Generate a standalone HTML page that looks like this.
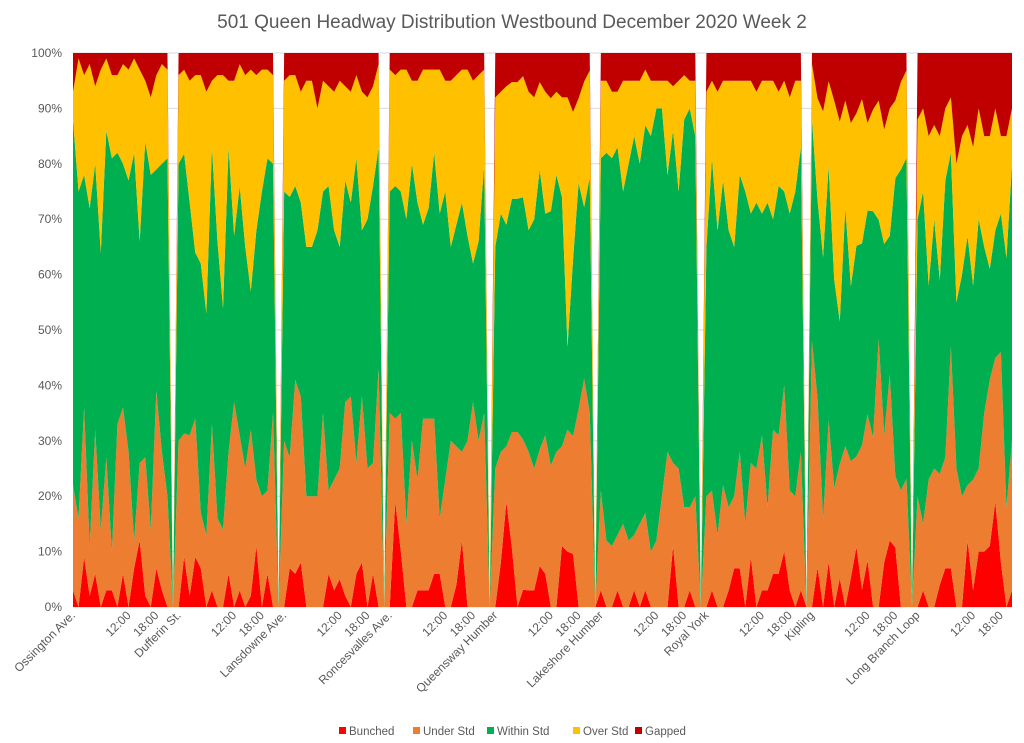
<!DOCTYPE html>
<html><head><meta charset="utf-8"><style>
body{margin:0;background:#fff;}
svg{display:block;font-family:"Liberation Sans",Arial,sans-serif;}
</style></head><body>
<svg id="chart" width="1024" height="743" viewBox="0 0 1024 743" xmlns="http://www.w3.org/2000/svg">
<text x="512" y="28" text-anchor="middle" font-size="19" fill="#595959">501 Queen  Headway Distribution Westbound December 2020 Week 2</text>
<g id="grid"></g><g id="areas"></g><g id="ylab"></g><g id="xlab"></g>
<g id="legend"></g>
</svg>
<script>
const stations=["Ossington Ave.","Dufferin St.","Lansdowne Ave.","Roncesvalles Ave.","Queensway Humber","Lakeshore Humber","Royal York","Kipling","Long Branch Loop"];
const yTicks=["0%","10%","20%","30%","40%","50%","60%","70%","80%","90%","100%"];
const seriesNames=["Bunched","Under Std","Within Std","Over Std","Gapped"];
const bunchedG=[
[3,0,9,2,6,0,3,3,0,6,0,7,12,2,0,7,3,0],
[0,9,2,9,7,0,3,0,0,6,0,3,0,2,11,0,6,0],
[0,7,6,8,0,0,0,0,6,3,5,2,0,6,8,0,6,0],
[0,19,10,0,0,3,3,3,6,6,0,0,4,12,0,0,0,0],
[0,8,19,10,0,3,3,3,7,6,0,0,11,10,9,0,0,0],
[3,0,0,3,0,0,3,0,3,0,0,0,0,11,0,0,3,0],
[0,3,0,0,3,7,7,0,9,0,3,3,6,6,10,3,0,3],
[0,7,0,8,0,5,0,5,10,3,8,0,0,7,12,10,0,0],
[0,3,0,0,4,7,7,0,0,12,3,10,10,11,19,8,0,3]];
const underG=[
[19,16,27,9,26,14,24,7,33,30,28,5,14,25,14,32,25,20],
[30,22,29,25,10,13,30,16,14,22,37,28,25,30,12,20,15,35],
[30,20,35,30,20,20,20,35,15,20,20,35,38,20,30,25,20,43],
[35,15,25,15,30,20,31,31,28,10,23,30,25,16,30,37,30,35],
[25,20,10,20,30,26,25,22,20,25,25,28,18,22,20,35,40,33],
[18,12,11,10,15,12,10,15,14,10,12,20,28,15,25,18,15,20],
[20,18,13,22,15,13,21,15,17,25,28,15,26,25,30,18,20,25],
[48,30,15,25,20,20,27,20,15,25,25,30,45,20,30,12,20,22],
[20,12,23,25,20,20,40,25,20,10,20,15,25,30,26,38,18,27]];
const withinG=[
[66,59,42,61,48,50,59,71,49,44,49,70,40,57,64,40,52,61],
[50,50,42,30,45,40,50,50,40,55,30,45,40,25,45,55,60,45],
[45,47,35,35,45,45,48,40,55,45,40,40,35,55,30,45,50,40],
[40,42,40,55,50,50,35,38,48,55,52,35,40,45,37,25,36,45],
[40,43,40,40,40,42,40,45,48,40,45,50,45,15,30,40,30,40],
[60,70,70,70,60,68,72,65,70,75,78,70,50,60,50,70,72,65],
[45,60,55,55,50,45,50,60,45,48,40,55,38,45,35,50,55,55],
[40,35,45,45,35,25,40,30,35,35,35,40,20,30,25,50,55,55],
[50,60,35,45,35,50,35,30,40,45,35,45,30,20,23,25,45,50]];
const overG=[
[5,24,18,26,14,33,13,15,14,18,20,17,31,11,14,17,18,16],
[16,15,22,32,34,40,12,30,42,12,28,22,31,40,28,22,16,16],
[20,22,20,20,30,30,22,20,18,25,30,17,20,15,25,22,18,15],
[22,20,22,27,15,22,28,25,15,26,20,30,27,24,30,33,30,17],
[27,22,25,20,20,21,25,22,15,22,20,15,18,45,25,15,22,18],
[14,13,12,10,20,15,10,15,10,10,5,5,17,8,20,8,5,10],
[28,14,25,18,27,30,17,20,24,20,24,22,25,17,20,21,20,12],
[10,18,25,15,30,35,18,28,22,25,15,18,20,18,23,13,15,15],
[18,15,27,17,26,13,10,25,25,20,25,20,20,24,22,14,22,10]];
const gappedG=[
[7,1,4,2,6,3,1,4,4,2,3,1,3,5,8,4,2,3],
[4,3,5,4,4,7,5,4,4,5,5,2,4,3,4,3,3,4],
[5,4,4,7,5,5,10,5,6,7,5,6,7,4,7,8,6,2],
[3,4,3,3,5,5,3,3,3,3,5,5,4,3,3,5,4,3],
[8,7,6,5,5,4,7,8,5,7,8,7,8,8,10,8,5,3],
[5,5,7,7,5,5,5,5,3,5,5,5,5,6,5,4,5,5],
[7,5,7,5,5,5,5,5,5,7,5,5,5,7,5,8,5,5],
[2,8,10,5,8,12,8,12,10,8,12,10,8,12,10,8,5,3],
[12,10,15,13,15,10,8,20,15,13,17,10,15,15,10,15,15,10]];
const colors=["#FF0000","#ED7D31","#00B050","#FFC000","#C00000"];
const NS="http://www.w3.org/2000/svg";
function mk(t,a,p){const e=document.createElementNS(NS,t);for(const k in a)e.setAttribute(k,a[k]);p.appendChild(e);return e;}
const groups=[bunchedG,underG,withinG,overG,gappedG];
const series=[[],[],[],[],[]];const labels=[];
for(let g=0;g<stations.length;g++){
  for(let i=0;i<18;i++){for(let s=0;s<5;s++)series[s].push(groups[s][g][i]);
    labels.push(i===0?stations[g]:(i===10?"12:00":(i===15?"18:00":"")));}
  if(g<stations.length-1){for(let s=0;s<5;s++)series[s].push(0);labels.push("");}
}
const N=labels.length;const L=73,R=1012,T=53,B=607;
const X=i=>L+(R-L)*i/(N-1);const Y=p=>B-(B-T)*p/100;
const grid=document.getElementById('grid');
yTicks.forEach((t,k)=>{const l=mk('line',{x1:L,x2:R,y1:Y(k*10),y2:Y(k*10),stroke:"#d9d9d9","stroke-width":1},grid);

const tx=mk('text',{x:62,y:Y(k*10)+4,"text-anchor":"end","font-size":12,fill:"#595959"},document.getElementById('ylab'));tx.textContent=t;
});
const cum=[];for(let i=0;i<N;i++){let tot=0;for(let s=0;s<5;s++)tot+=series[s][i];let c=0;const row=[0];
for(let s=0;s<5;s++){c+=tot?series[s][i]/tot*100:0;row.push(tot?c:0);}cum.push(row);}
const ag=document.getElementById('areas');
for(let s=0;s<5;s++){let d="";for(let i=0;i<N;i++)d+=(i?"L":"M")+X(i).toFixed(2)+","+Y(cum[i][s+1]).toFixed(2);
for(let i=N-1;i>=0;i--)d+="L"+X(i).toFixed(2)+","+Y(cum[i][s]).toFixed(2);d+="Z";
const p=mk('path',{d:d,fill:colors[s]},ag);

}
const xl=document.getElementById('xlab');
labels.forEach((t,i)=>{if(!t)return;const x=X(i)+3,y=616;
const tx=mk('text',{x:x,y:y,"text-anchor":"end","font-size":12,fill:"#595959",transform:`rotate(-45 ${x} ${y})`},xl);tx.textContent=t;
});
const lg=document.getElementById('legend');const lx=[339,413,487,573,635];
seriesNames.forEach((n,s)=>{const r=mk('rect',{x:lx[s],y:727,width:7,height:7,fill:colors[s]},lg);

const tx=mk('text',{x:lx[s]+10,y:735,"font-size":11.5,fill:"#595959"},lg);tx.textContent=n;
});
</script>
</body></html>
